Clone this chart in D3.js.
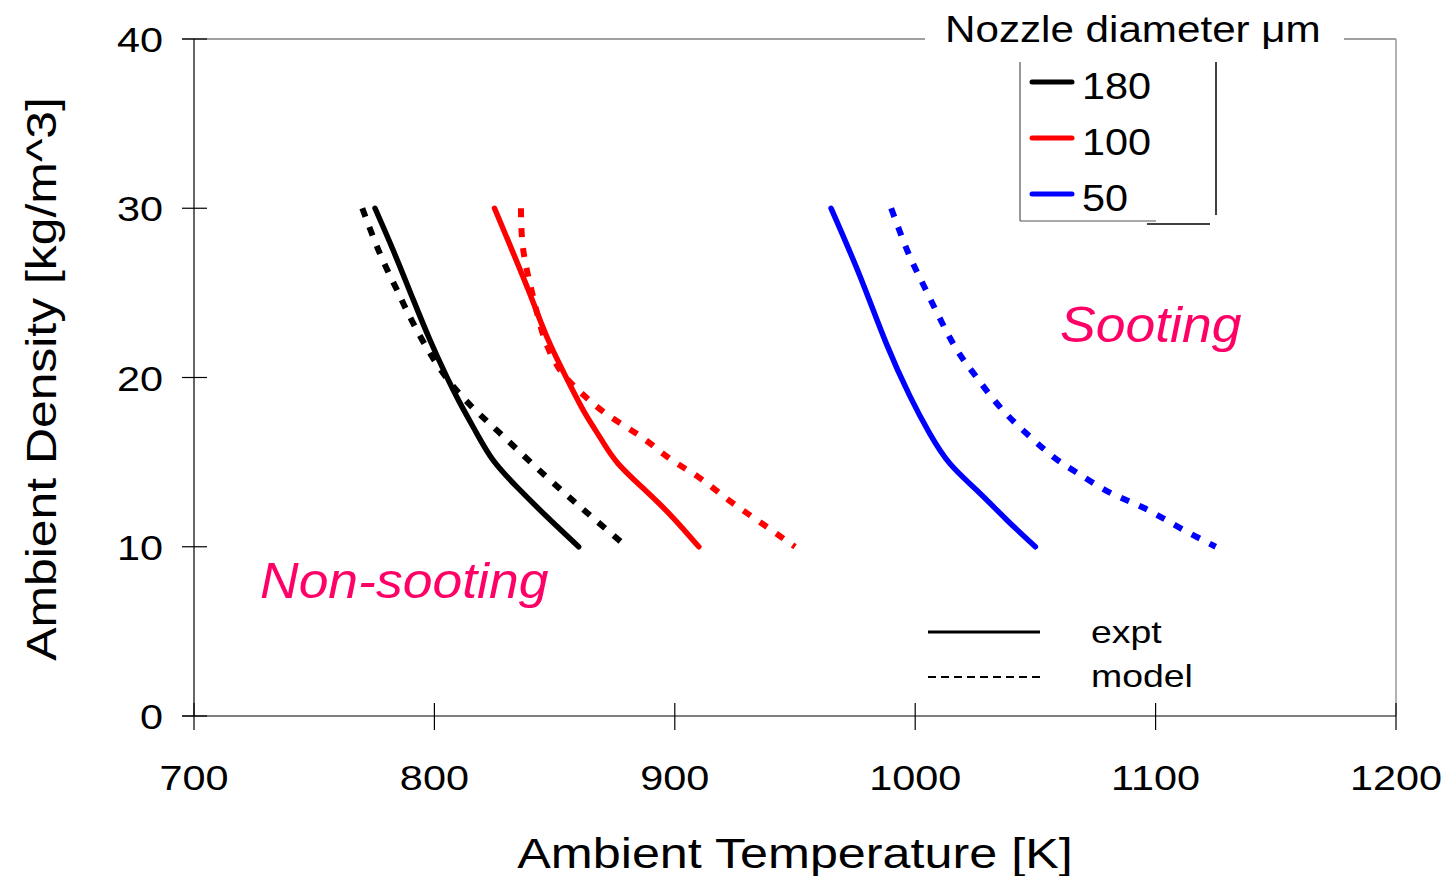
<!DOCTYPE html>
<html lang="en">
<head>
<meta charset="UTF-8">
<title>Ambient Density vs Ambient Temperature</title>
<script src="https://d3js.org/d3.v7.min.js"></script>
<style>
  body { margin: 0; background: #fff; }
  svg { display: block; font-family: "Liberation Sans", Arial, sans-serif; }
</style>
</head>
<body>
<svg id="chart" width="1447" height="876"></svg>
<script>
const expt180 = [[775.3,30],[782.9,27.5],[791.2,24.6],[798.2,22.2],[805.1,20.05],[810.6,18.5],[817.6,16.7],[824.5,15.1],[834.2,13.55],[846.6,11.8],[860,10]];
const model180 = [[770,30],[777.4,27.3],[784,25.3],[788,24.1],[795,22.2],[804.4,20.1],[815.4,18.3],[826.6,16.8],[840,15],[854.3,13.15],[866,11.7],[880,10]];
const expt100 = [[825,30],[839,25.2],[847.4,22.2],[856.4,19.56],[862.6,17.9],[869.6,16.3],[876.5,14.9],[887.6,13.35],[898.7,11.8],[910,10]];
const model100 = [[836,30],[837,27.5],[841,24.8],[846,22.2],[853,20.3],[861,19.1],[872,17.8],[886,16.5],[898,15.2],[910,14.1],[922,12.8],[935,11.5],[950,10]];
const expt50 = [[965,30],[977,26],[988,22],[997.8,18.9],[1006,16.7],[1014.5,14.9],[1025.5,13.35],[1038,11.6],[1050,10]];
const model50 = [[990,30],[997,27.4],[1004,25.3],[1015,22.2],[1024,20.3],[1035,18.3],[1047,16.6],[1058,15.25],[1067,14.4],[1081,13.2],[1095,12.3],[1109,11.2],[1125,10]];

const diameters = ["180", "100", "50"];
const colors = {"180": "#000000", "100": "#ff0000", "50": "#0000ff"};
const xTicks = [700, 800, 900, 1000, 1100, 1200];
const yTicks = [0, 10, 20, 30, 40];

const series = [
  {d: "180", kind: "expt", pts: expt180},
  {d: "180", kind: "model", pts: model180},
  {d: "100", kind: "expt", pts: expt100},
  {d: "100", kind: "model", pts: model100},
  {d: "50", kind: "expt", pts: expt50},
  {d: "50", kind: "model", pts: model50}
];

const pLeft = 194, pRight = 1396, pTop = 39, pBottom = 716;
const svg = d3.select("#chart");
const x = d3.scaleLinear().domain([700, 1200]).range([pLeft, pRight]);
const y = d3.scaleLinear().domain([0, 40]).range([pBottom, pTop]);

// the original's lettering is a bit wider than Arial, so stretch it
const SX = 1.15;
function label(parent, tx, ty, str, size, anchor, sx, extra) {
  return parent.append("text")
    .attr("transform", `translate(${tx},${ty}) ${extra || ""} scale(${sx},1)`)
    .attr("text-anchor", anchor || "start")
    .attr("font-size", size)
    .text(str);
}

// frame: grey top and right, top broken by the legend title
svg.append("line").attr("x1", 182).attr("x2", 925).attr("y1", pTop).attr("y2", pTop)
  .attr("stroke", "#808080").attr("stroke-width", 1.5);
svg.append("line").attr("x1", 1344).attr("x2", pRight).attr("y1", pTop).attr("y2", pTop)
  .attr("stroke", "#808080").attr("stroke-width", 1.5);
svg.append("line").attr("x1", pRight).attr("x2", pRight).attr("y1", pTop).attr("y2", pBottom)
  .attr("stroke", "#999").attr("stroke-width", 1.5);

// axes
svg.append("line").attr("x1", pLeft).attr("x2", pLeft).attr("y1", pTop).attr("y2", pBottom)
  .attr("stroke", "#000").attr("stroke-width", 1.2);
svg.append("line").attr("x1", pLeft - 12).attr("x2", pRight).attr("y1", pBottom).attr("y2", pBottom)
  .attr("stroke", "#000").attr("stroke-width", 1.2);

svg.selectAll(".xtick").data(xTicks).join("line")
  .attr("x1", d => x(d)).attr("x2", d => x(d))
  .attr("y1", pBottom - 13).attr("y2", pBottom + 14)
  .attr("stroke", "#000").attr("stroke-width", 1.2);
xTicks.forEach(t => label(svg, x(t), 790, t, 36, "middle", SX));

svg.selectAll(".ytick").data(yTicks).join("line")
  .attr("x1", pLeft - 12).attr("x2", pLeft + 13)
  .attr("y1", d => y(d)).attr("y2", d => y(d))
  .attr("stroke", "#000").attr("stroke-width", 1.2);
yTicks.forEach(t => label(svg, 163, y(t) + 13, t, 36, "end", SX));

// axis titles
label(svg, 795, 868, "Ambient Temperature [K]", 43, "middle", 1.17);
label(svg, 56, 379, "Ambient Density [kg/m^3]", 43, "middle", 1.16, "rotate(-90)");

// curves
const line = d3.line()
  .x(d => x(d[0])).y(d => y(d[1]))
  .curve(d3.curveNatural);

svg.selectAll(".curve").data(series).join("path")
  .attr("d", s => line(s.pts))
  .attr("fill", "none")
  .attr("stroke", s => colors[s.d])
  .attr("stroke-width", s => s.kind === "expt" ? 5.5 : 6)
  .attr("stroke-linecap", s => s.kind === "expt" ? "round" : "butt")
  .attr("stroke-dasharray", s => s.kind === "expt" ? null : "9,11");

// region labels
label(svg, 1060, 342, "Sooting", 50, "start", 1.07)
  .attr("font-style", "italic").attr("fill", "#ff0066");
label(svg, 260, 598, "Non-sooting", 50, "start", 1.07)
  .attr("font-style", "italic").attr("fill", "#ff0066");

// diameter legend
label(svg, 945, 42, "Nozzle diameter \u03bcm", 37, "start", 1.14);
svg.append("line").attr("x1", 1020).attr("x2", 1020).attr("y1", 62).attr("y2", 221)
  .attr("stroke", "#333").attr("stroke-width", 1);
svg.append("line").attr("x1", 1020).attr("x2", 1156).attr("y1", 221).attr("y2", 221)
  .attr("stroke", "#555").attr("stroke-width", 1);
svg.append("line").attr("x1", 1147).attr("x2", 1210).attr("y1", 224).attr("y2", 224)
  .attr("stroke", "#000").attr("stroke-width", 1.5);
svg.append("line").attr("x1", 1216).attr("x2", 1216).attr("y1", 62).attr("y2", 215)
  .attr("stroke", "#000").attr("stroke-width", 1.5);

diameters.forEach((d, i) => {
  const g = svg.append("g").attr("transform", `translate(0,${i * 56})`);
  g.append("line").attr("x1", 1032).attr("x2", 1072).attr("y1", 82).attr("y2", 82)
    .attr("stroke", colors[d]).attr("stroke-width", 5).attr("stroke-linecap", "round");
  label(g, 1082, 99, d, 37, "start", 1.12);
});

// line style legend
svg.append("line").attr("x1", 928).attr("x2", 1040).attr("y1", 632).attr("y2", 632)
  .attr("stroke", "#000").attr("stroke-width", 3);
svg.append("line").attr("x1", 928).attr("x2", 1044).attr("y1", 677).attr("y2", 677)
  .attr("stroke", "#000").attr("stroke-width", 2).attr("stroke-dasharray", "8,5");
label(svg, 1091, 643, "expt", 32, "start", 1.17);
label(svg, 1091, 687, "model", 32, "start", 1.17);
</script>
</body>
</html>
